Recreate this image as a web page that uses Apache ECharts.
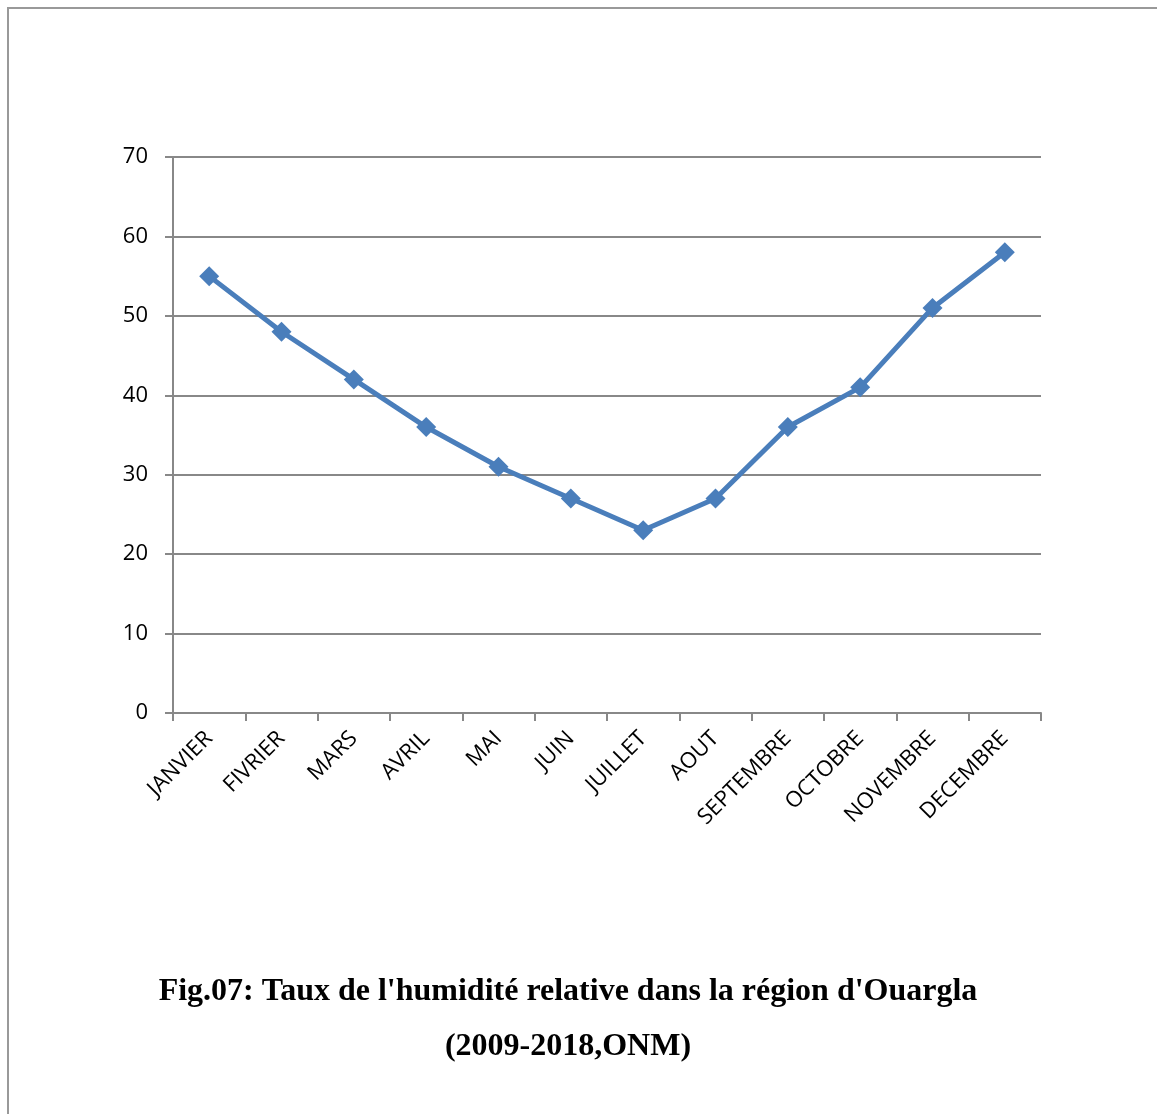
<!DOCTYPE html>
<html>
	<head>
		<meta charset="utf-8" />
		<title>Taux de l'humidité relative</title>
		<style>
			html, body { margin: 0; padding: 0; background: #fff; }
			#main { width: 1157px; height: 1114px; }
		</style>
	</head>
	<body>
		<div id="main"></div>
		<script src="https://cdn.jsdelivr.net/npm/echarts@6/dist/echarts.min.js"></script>
		<script>
			// données
			var mois = ['JANVIER', 'FIVRIER', 'MARS', 'AVRIL', 'MAI', 'JUIN', 'JUILLET', 'AOUT', 'SEPTEMBRE', 'OCTOBRE', 'NOVEMBRE', 'DECEMBRE'];
			var humidite = [55, 48, 42, 36, 31, 27, 23, 27, 36, 41, 51, 58];
			var titre1 = "Fig.07: Taux de l'humidité relative dans la région d'Ouargla";
			var titre2 = '(2009-2018,ONM)';

			var chart = echarts.init(document.getElementById('main'));
			var gris = '#888888';
			var option = {
				backgroundColor: '#fff',
				animation: false,
				grid: {
					left: 173,
					top: 157,
					width: 868,
					height: 556,
					containLabel: false
				},
				xAxis: {
					type: 'category',
					data: mois,
					boundaryGap: true,
					axisLine: { show: true, lineStyle: { color: gris, width: 2 } },
					axisTick: { show: true, alignWithLabel: false, length: 8, lineStyle: { color: gris, width: 2 } },
					axisLabel: {
						interval: 0,
						rotate: 45,
						margin: 22,
						color: '#000',
						fontFamily: 'Open Sans',
						fontSize: 22
					}
				},
				yAxis: {
					type: 'value',
					min: 0,
					max: 70,
					interval: 10,
					axisLine: { show: true, lineStyle: { color: gris, width: 2 } },
					axisTick: { show: true, length: 8, lineStyle: { color: gris, width: 2 } },
					axisLabel: {
						margin: 25,
						color: '#000',
						fontFamily: 'Open Sans',
						fontSize: 22
					},
					splitLine: { show: true, lineStyle: { color: gris, width: 2 } }
				},
				series: [{
					type: 'line',
					data: humidite,
					symbol: 'diamond',
					symbolSize: 20,
					lineStyle: { color: '#4a7ebb', width: 5 },
					itemStyle: { color: '#4a7ebb' }
				}],
				graphic: [
					{
						type: 'polyline',
						shape: { points: [[8, 1114], [8, 8], [1157, 8]] },
						style: { stroke: '#999', lineWidth: 2, fill: null }
					},
					{
						type: 'text',
						x: 568,
						y: 992,
						style: {
							text: titre1,
							fontFamily: 'Liberation Serif',
							fontWeight: 'bold',
							fontSize: 32,
							fill: '#000',
							align: 'center',
							verticalAlign: 'middle'
						}
					},
					{
						type: 'text',
						x: 568,
						y: 1047,
						style: {
							text: titre2,
							fontFamily: 'Liberation Serif',
							fontWeight: 'bold',
							fontSize: 32,
							fill: '#000',
							align: 'center',
							verticalAlign: 'middle'
						}
					}
				]
			};
			chart.setOption(option);
		</script>
	</body>
</html>
